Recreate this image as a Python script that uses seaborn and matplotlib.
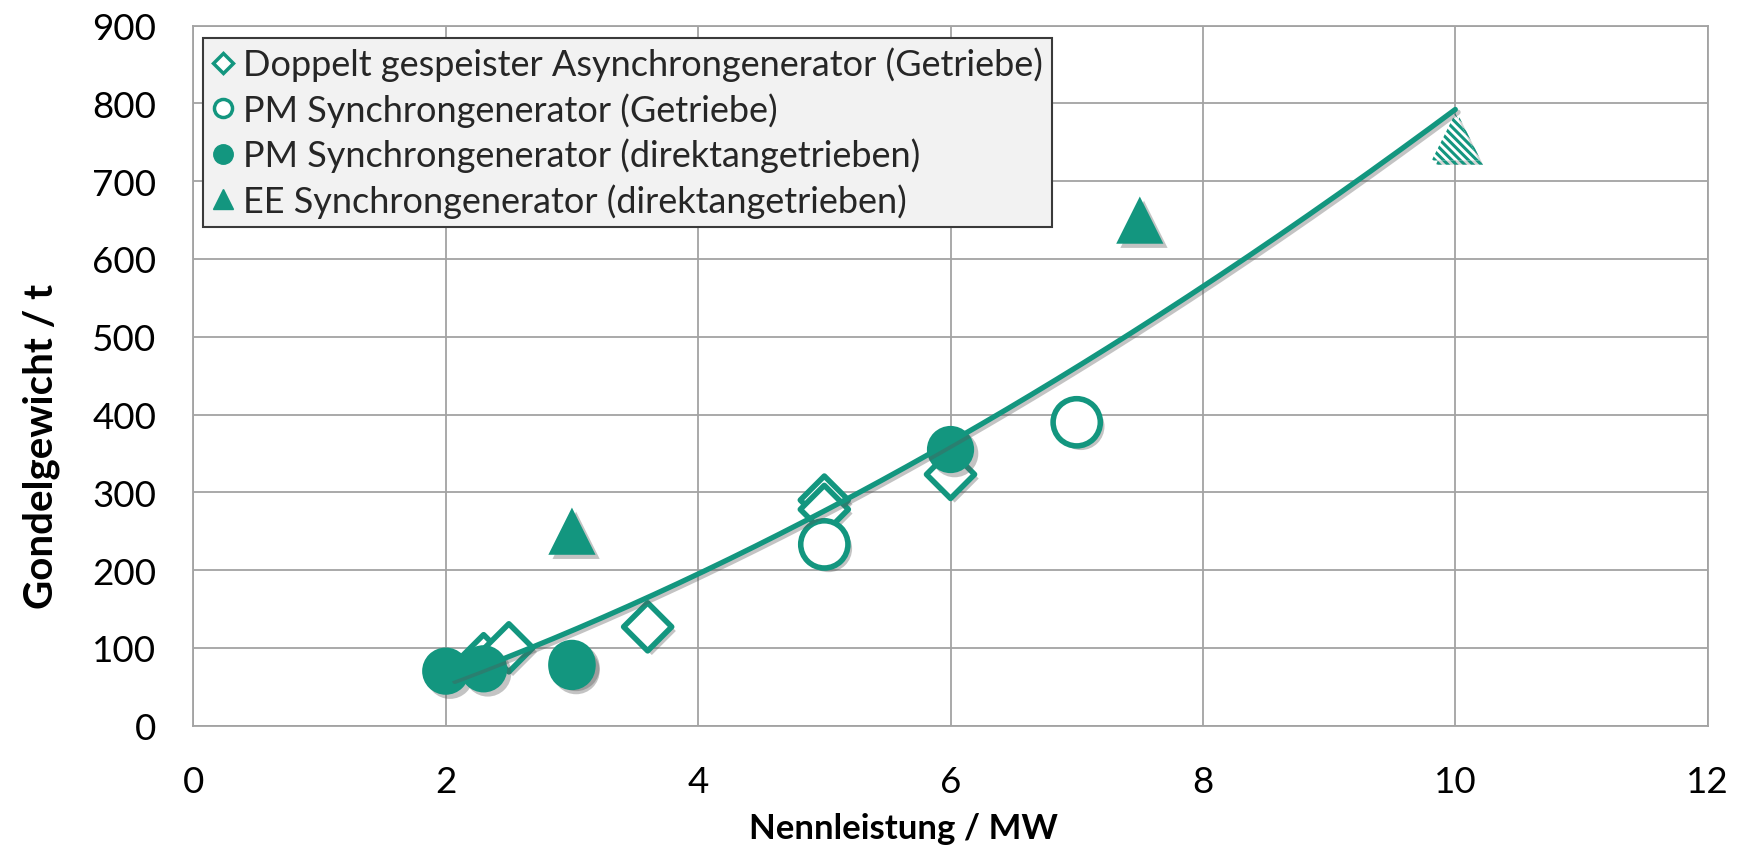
import numpy as np
import matplotlib
matplotlib.use("Agg")
import matplotlib.pyplot as plt
import seaborn as sns
from matplotlib import patheffects as pe
from matplotlib.lines import Line2D

# ---------------- data ----------------
dfig_x = [2.3, 2.5, 3.6, 5.0, 5.0, 6.0]          # Doppelt gespeister ASG (Getriebe)
dfig_y = [86, 100, 127, 290, 278, 323]
pmg_x = [5.0, 7.0]                                # PM SG (Getriebe)
pmg_y = [233, 390]
pmd_x = [2.0, 2.3, 3.0, 3.0, 6.0]                 # PM SG (direktangetrieben)
pmd_y = [70, 73, 80, 76, 355]
ee_x = [3.0, 7.5]                                 # EE SG (direktangetrieben)
ee_y = [250, 650]
ee_proj_x = [10.0]                                # hatched (projected) EE point
ee_proj_y = [757]
trend_x = [2.05, 2.67, 4.0, 5.0, 6.0, 7.0, 8.0, 9.0, 10.0]   # trend line
trend_y = [57, 103, 201, 272, 357, 467, 563, 679, 790]

labels = ["Doppelt gespeister Asynchrongenerator (Getriebe)",
          "PM Synchrongenerator (Getriebe)",
          "PM Synchrongenerator (direktangetrieben)",
          "EE Synchrongenerator (direktangetrieben)"]
x_ticks = [0, 2, 4, 6, 8, 10, 12]
y_ticks = [0, 100, 200, 300, 400, 500, 600, 700, 800, 900]
x_label = "Nennleistung / MW"
y_label = "Gondelgewicht / t"

# ---------------- style ----------------
sns.set_theme(style="white")
plt.rcParams['font.family'] = ['Lato', 'DejaVu Sans']
plt.rcParams['hatch.linewidth'] = 2.2
TEAL = "#13967F"
GRID = "#a3a3a3"
plt.rcParams['hatch.color'] = TEAL

fig = plt.figure(figsize=(17.42, 8.53), dpi=100)
ax = fig.add_axes([0.1110, 0.1482, 0.8693, 0.8205])

def shadow(alpha=0.35):
    return [pe.SimplePatchShadow(offset=(3, -3), shadow_rgbFace="#555555", alpha=alpha), pe.Normal()]

MS = 34  # marker size in points

sns.scatterplot(x=dfig_x, y=dfig_y, marker='D', s=(MS * 0.72) ** 2, facecolor='white',
                edgecolor=TEAL, linewidth=4, ax=ax, zorder=3)
ax.collections[-1].set_path_effects(shadow())
sns.scatterplot(x=pmg_x, y=pmg_y, marker='o', s=MS ** 2, facecolor='white',
                edgecolor=TEAL, linewidth=4, ax=ax, zorder=3)
ax.collections[-1].set_path_effects(shadow())
sns.scatterplot(x=pmd_x, y=pmd_y, marker='o', s=MS ** 2, color=TEAL,
                edgecolor=TEAL, linewidth=0, ax=ax, zorder=3)
ax.collections[-1].set_path_effects(shadow())
sns.scatterplot(x=ee_x, y=ee_y, marker='^', s=MS ** 2, color=TEAL,
                edgecolor=TEAL, linewidth=0, ax=ax, zorder=3)
ax.collections[-1].set_path_effects(shadow())
sns.scatterplot(x=ee_proj_x, y=ee_proj_y, marker='^', s=MS ** 2, facecolor='white',
                edgecolor=TEAL, hatch='\\\\\\\\', linewidth=0, ax=ax, zorder=3)
ax.collections[-1].set_path_effects(shadow(0.25))

# smooth trend line through the read points
coef = np.polyfit(trend_x, trend_y, 3)
xx = np.linspace(trend_x[0], trend_x[-1], 200)
sns.lineplot(x=xx, y=np.polyval(coef, xx), color=TEAL, linewidth=3.8, ax=ax, zorder=4,
             path_effects=[pe.SimpleLineShadow(offset=(2, -2), shadow_color="#555555", alpha=0.35),
                           pe.Normal()])

# ---------------- axes ----------------
ax.set_xlim(0, 12)
ax.set_ylim(0, 900)
ax.set_xticks(x_ticks)
ax.set_yticks(y_ticks)
ax.grid(True, color=GRID, linewidth=1.3)
ax.set_axisbelow(True)
for sp in ax.spines.values():
    sp.set_color(GRID)
    sp.set_linewidth(1.3)
ax.tick_params(axis='both', direction='out', length=9.5, width=1.3, color=GRID,
               labelsize=26.5, labelcolor='black')
ax.tick_params(axis='x', pad=19)
ax.tick_params(axis='y', pad=17)

ax.set_xlabel(x_label, fontsize=25, fontweight='bold', color='black')
ax.set_ylabel(y_label, fontsize=29, fontweight='bold', color='black')
ax.xaxis.set_label_coords(0.469, -0.124)
ax.yaxis.set_label_coords(-0.088, 0.40)

handles = [
    Line2D([], [], marker='D', linestyle='none', markersize=10, markerfacecolor='white',
           markeredgecolor=TEAL, markeredgewidth=2.5),
    Line2D([], [], marker='o', linestyle='none', markersize=13, markerfacecolor='white',
           markeredgecolor=TEAL, markeredgewidth=2.5),
    Line2D([], [], marker='o', linestyle='none', markersize=14, markerfacecolor=TEAL,
           markeredgecolor=TEAL),
    Line2D([], [], marker='^', linestyle='none', markersize=14, markerfacecolor=TEAL,
           markeredgecolor=TEAL),
]
leg = ax.legend(handles, labels, loc='upper left', bbox_to_anchor=(0.0066, 0.983),
                fontsize=26, frameon=True, fancybox=False, framealpha=1,
                facecolor='#f2f2f2', edgecolor='#3a3a3a', borderpad=0.25,
                handlelength=0.6, handletextpad=0.25, labelspacing=0.3,
                borderaxespad=0)
leg.get_frame().set_linewidth(1.5)
leg.set_zorder(6)

fig.savefig("out.png", dpi=100)
